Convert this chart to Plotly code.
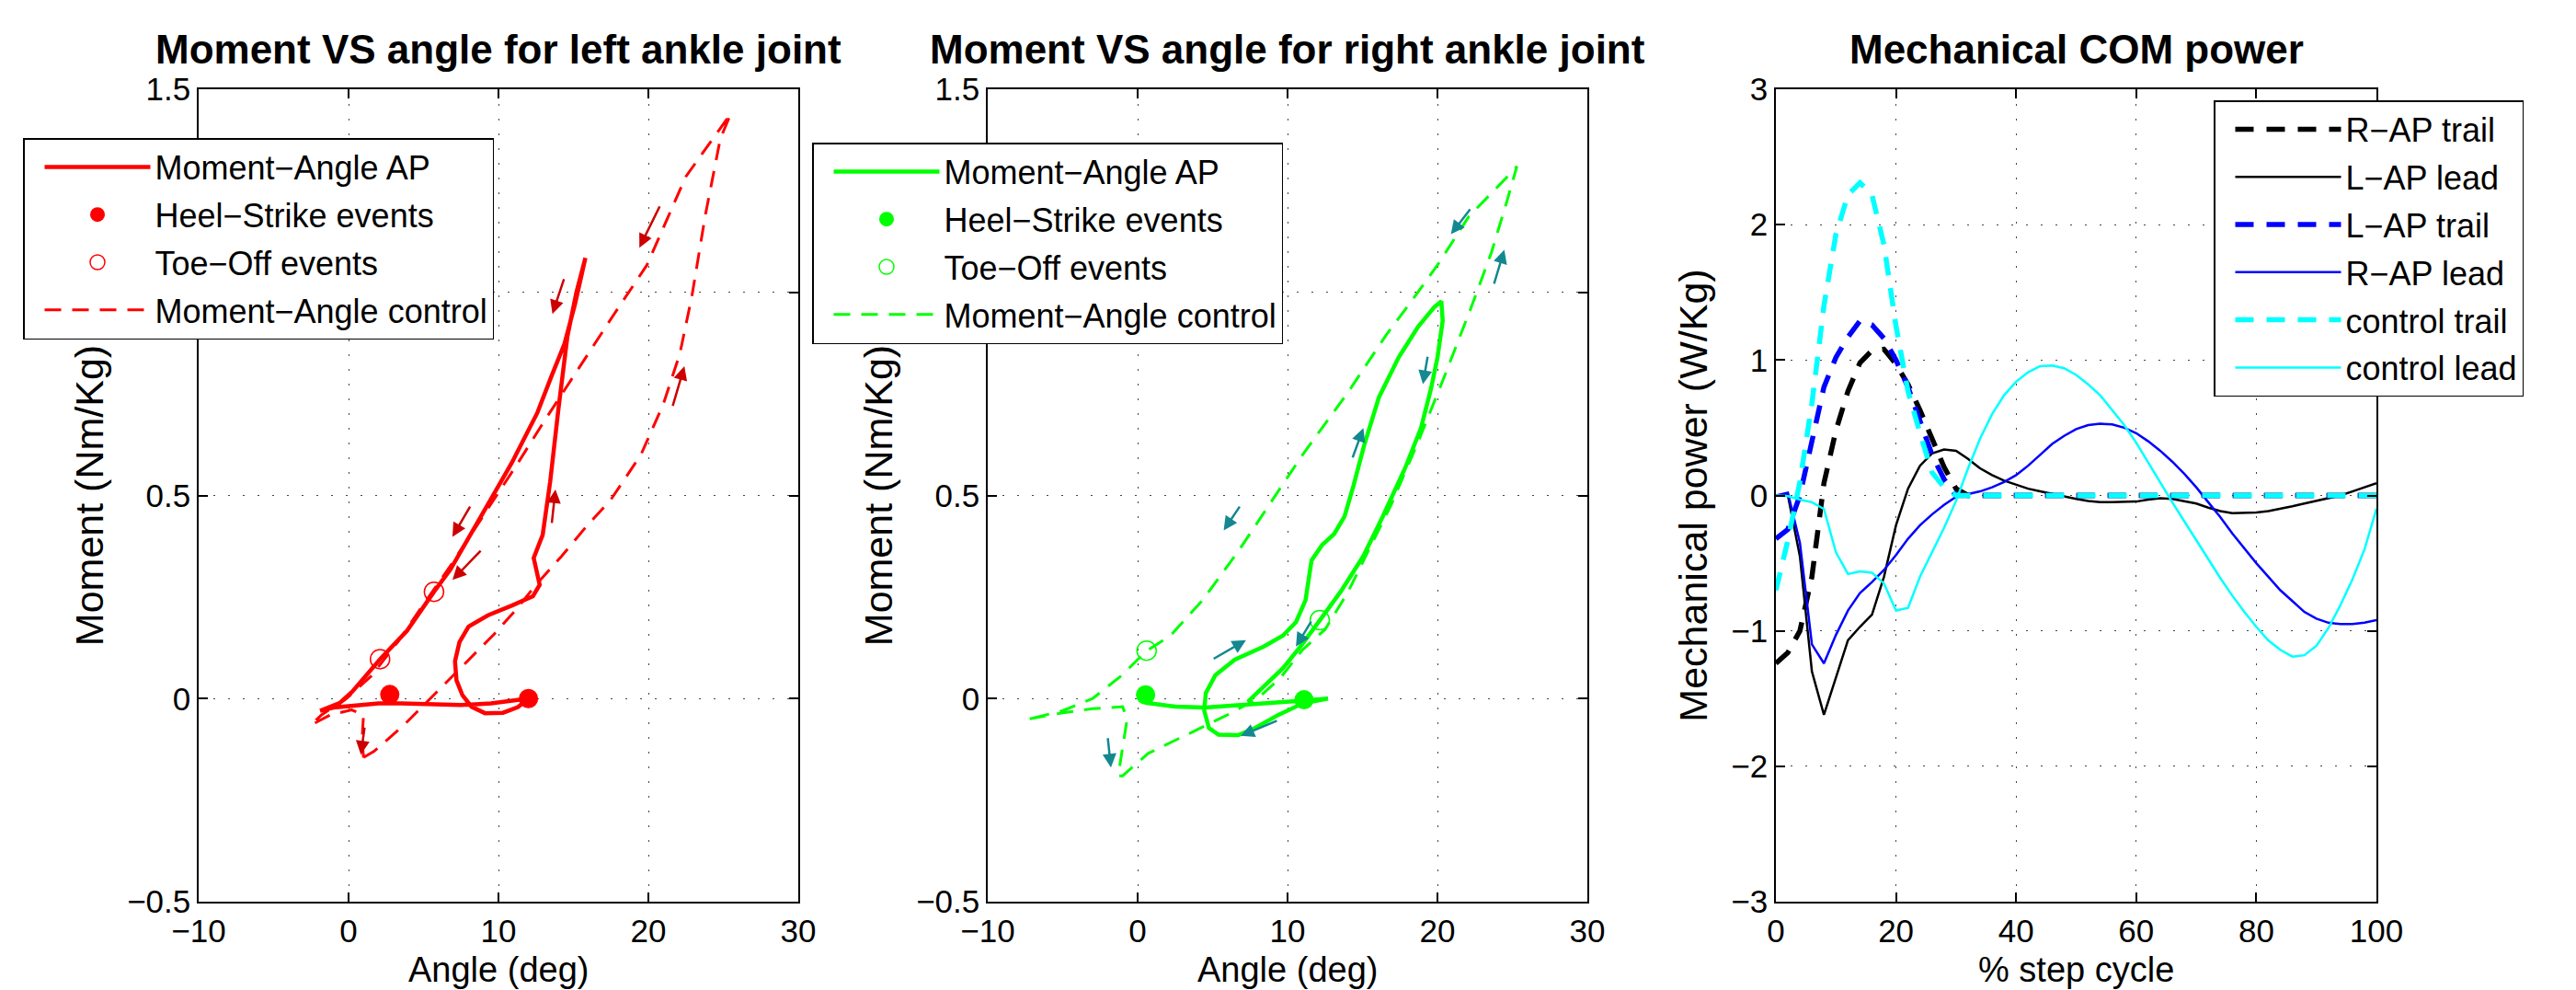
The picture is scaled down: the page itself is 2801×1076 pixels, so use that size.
import plotly.graph_objects as go

FONT = "Liberation Sans, Arial, Helvetica, sans-serif"

# ---------------- Left ankle joint ----------------
left_ap_angle = [-1.9, -1.0, 0.5, 2.0, 3.5, 5.5, 7.5, 9.5, 11.0, 12.0, 11.3, 10.3, 9.1, 8.2, 7.6, 7.2,
                 7.1, 7.4, 8.0, 9.3, 10.9, 12.3, 12.75, 12.35, 12.95, 13.45, 14.0, 14.6, 15.2, 15.8,
                 15.1, 14.4, 13.5, 12.6, 10.9, 8.85, 6.8, 5.7, 3.9, 2.1, 0.25, -0.6, -1.9]
left_ap_moment = [-0.03, -0.022, -0.017, -0.012, -0.012, -0.015, -0.016, -0.012, -0.006, 0.0, -0.021,
                  -0.035, -0.036, -0.02, 0.008, 0.045, 0.092, 0.139, 0.177, 0.205, 0.229, 0.252, 0.28,
                  0.346, 0.403, 0.534, 0.713, 0.892, 1.0, 1.085, 0.97, 0.873, 0.79, 0.704, 0.581, 0.45,
                  0.318, 0.263, 0.167, 0.097, 0.017, -0.011, -0.03]
left_hs_angle = [2.75, 12.0]
left_hs_moment = [0.01, 0.0]
left_to_angle = [2.1, 5.7]
left_to_moment = [0.097, 0.263]
left_ctrl_angle = [1.0, 1.7, 3.7, 6.0, 8.0, 9.7, 11.2, 12.5, 14.2, 15.8, 17.5, 19.5, 21.0, 22.1, 22.9,
                   23.8, 24.8, 25.5, 22.5, 19.9, 17.6, 15.4, 13.0, 11.3, 9.7, 8.4, 6.8, 5.0, 3.3, 1.5,
                   -0.2, -1.8, -2.5, -1.2, 0.2, 1.0, 0.9, 1.0]
left_ctrl_moment = [-0.145, -0.13, -0.065, 0.02, 0.095, 0.158, 0.22, 0.28, 0.35, 0.421, 0.49, 0.6,
                    0.725, 0.849, 0.99, 1.19, 1.378, 1.44, 1.285, 1.067, 0.94, 0.815, 0.68, 0.58, 0.49,
                    0.418, 0.327, 0.232, 0.14, 0.055, -0.002, -0.04, -0.065, -0.04, -0.028, -0.04,
                    -0.1, -0.145]
left_arrow_tail_x = [20.8, 14.4, 21.6, 13.55, 8.16, 8.9, 1.08]
left_arrow_tail_y = [1.215, 1.036, 0.717, 0.429, 0.476, 0.367, -0.068]
left_arrow_head_x = [19.4, 13.6, 22.4, 13.8, 6.93, 6.93, 0.82]
left_arrow_head_y = [1.11, 0.947, 0.818, 0.515, 0.398, 0.292, -0.138]

# ---------------- Right ankle joint ----------------
right_ap_angle = [0.5, 2.5, 4.5, 7.5, 9.5, 11.0, 12.7, 11.0, 9.4, 7.8, 6.7, 5.4, 4.76, 4.44, 4.55,
                  5.19, 6.48, 8.41, 9.7, 10.56, 11.2, 11.6, 12.3, 13.1, 13.8, 14.4, 15.1, 16.1, 17.4,
                  18.7, 19.8, 20.26, 20.35, 20.0, 19.57, 18.9, 17.85, 16.35, 15.06, 13.56, 12.1, 10.9,
                  9.7, 8.4, 7.34]
right_ap_moment = [-0.01, -0.02, -0.022, -0.015, -0.01, -0.005, 0.0, -0.012, -0.04, -0.073, -0.09,
                   -0.089, -0.073, -0.029, 0.014, 0.058, 0.096, 0.128, 0.155, 0.188, 0.242, 0.34, 0.378,
                   0.405, 0.448, 0.524, 0.622, 0.742, 0.839, 0.915, 0.964, 0.978, 0.93, 0.839, 0.763,
                   0.666, 0.568, 0.448, 0.351, 0.264, 0.19, 0.13, 0.075, 0.03, -0.008]
right_hs_angle = [0.53, 11.1]
right_hs_moment = [0.009, -0.003]
right_to_angle = [0.6, 12.15]
right_to_moment = [0.118, 0.193]
right_ctrl_angle = [-7.2, -5.0, -3.0, -1.0, -0.7, -1.0, -1.3, -1.0, 0.7, 3.5, 6.0, 8.0, 9.5, 11.0,
                    12.5, 14.0, 15.5, 16.9, 18.7, 20.4, 22.2, 23.6, 24.6, 25.3, 24.1, 22.1, 20.0, 18.3,
                    16.56, 14.0, 11.0, 8.63, 6.7, 4.33, 2.19, 0.58, -1.03, -3.0, -5.0, -7.2]
right_ctrl_moment = [-0.05, -0.035, -0.025, -0.02, -0.05, -0.12, -0.19, -0.19, -0.135, -0.085, -0.04,
                     0.0, 0.05, 0.12, 0.17, 0.26, 0.37, 0.476, 0.631, 0.787, 0.958, 1.098, 1.22, 1.31,
                     1.263, 1.187, 1.067, 0.98, 0.894, 0.752, 0.6, 0.47, 0.362, 0.242, 0.155, 0.117,
                     0.058, 0.0, -0.03, -0.05]
right_arrow_tail_x = [22.25, 23.75, 19.36, 14.31, 6.87, 4.98, 11.63, 9.38, -2.0]
right_arrow_tail_y = [1.208, 1.018, 0.845, 0.59, 0.476, 0.096, 0.193, -0.053, -0.094]
right_arrow_head_x = [20.9, 24.46, 19.03, 15.06, 5.74, 7.23, 10.56, 6.87, -1.78]
right_arrow_head_y = [1.143, 1.105, 0.774, 0.666, 0.414, 0.144, 0.128, -0.092, -0.17]

# ---------------- Mechanical COM power ----------------
step_pct = [0, 2, 4, 6, 8, 10, 12, 14, 16, 18, 20, 22, 24, 26, 28, 30, 32, 34, 36, 38, 40, 42, 44,
            46, 48, 50, 52, 54, 56, 58, 60, 62, 64, 66, 68, 70, 72, 74, 76, 78, 80, 82, 84, 86, 88,
            90, 92, 94, 96, 98, 100]
r_ap_trail = [-1.24, -1.16, -1.0, -0.6, 0.09, 0.48, 0.77, 0.98, 1.07, 1.08, 0.97, 0.82, 0.63, 0.42,
              0.21, 0.05, 0, 0, 0, 0, 0, 0, 0, 0, 0, 0, 0, 0, 0, 0, 0, 0, 0, 0, 0, 0, 0, 0, 0, 0, 0,
              0, 0, 0, 0, 0, 0, 0, 0, 0, 0]
l_ap_lead = [0.0, 0.0, -0.45, -1.3, -1.62, -1.35, -1.07, -0.97, -0.88, -0.6, -0.22, 0.05, 0.22, 0.31,
             0.34, 0.33, 0.27, 0.2, 0.15, 0.11, 0.08, 0.05, 0.03, 0.01, -0.01, -0.025, -0.04, -0.05,
             -0.05, -0.05, -0.045, -0.03, -0.02, -0.025, -0.04, -0.06, -0.09, -0.115, -0.13, -0.13,
             -0.125, -0.115, -0.1, -0.08, -0.06, -0.04, -0.02, 0.0, 0.03, 0.06, 0.09]
l_ap_trail = [-0.32, -0.25, 0.0, 0.42, 0.8, 1.02, 1.17, 1.29, 1.26, 1.16, 1.0, 0.8, 0.55, 0.3, 0.12,
              0.0, 0, 0, 0, 0, 0, 0, 0, 0, 0, 0, 0, 0, 0, 0, 0, 0, 0, 0, 0, 0, 0, 0, 0, 0, 0, 0, 0,
              0, 0, 0, 0, 0, 0, 0, 0]
r_ap_lead = [0.0, 0.02, -0.35, -1.1, -1.24, -1.03, -0.85, -0.72, -0.64, -0.55, -0.44, -0.32, -0.22,
             -0.14, -0.07, -0.01, 0.01, 0.03, 0.06, 0.1, 0.15, 0.22, 0.3, 0.38, 0.44, 0.49, 0.52, 0.53,
             0.525, 0.5, 0.46, 0.4, 0.33, 0.25, 0.16, 0.06, -0.05, -0.16, -0.28, -0.39, -0.5, -0.6,
             -0.7, -0.78, -0.86, -0.91, -0.94, -0.95, -0.95, -0.94, -0.92]
control_trail = [-0.7, -0.33, 0.1, 0.68, 1.4, 1.93, 2.22, 2.31, 2.22, 1.85, 1.25, 0.77, 0.46, 0.17,
                 0.06, 0.0, 0, 0, 0, 0, 0, 0, 0, 0, 0, 0, 0, 0, 0, 0, 0, 0, 0, 0, 0, 0, 0, 0, 0, 0, 0,
                 0, 0, 0, 0, 0, 0, 0, 0, 0, 0]
control_lead = [0.0, -0.005, -0.03, -0.05, -0.1, -0.42, -0.58, -0.56, -0.57, -0.65, -0.85, -0.83, -0.6,
                -0.42, -0.24, -0.04, 0.2, 0.42, 0.6, 0.74, 0.84, 0.91, 0.955, 0.96, 0.94, 0.89, 0.82,
                0.74, 0.63, 0.52, 0.39, 0.24, 0.09, -0.05, -0.19, -0.33, -0.47, -0.61, -0.74, -0.86,
                -0.97, -1.07, -1.14, -1.19, -1.18, -1.11, -0.98, -0.81, -0.62, -0.4, -0.1]

# tick labels
angle_ticks = [-10, 0, 10, 20, 30]
moment_ticks = [-0.5, 0, 0.5, 1, 1.5]
moment_ticktext = ["\u22120.5", "0", "0.5", "", "1.5"]   # "1" is hidden behind the legend
pct_ticks = [0, 20, 40, 60, 80, 100]
power_ticks = [-3, -2, -1, 0, 1, 2, 3]

W, H = 2801, 1076
fig = go.Figure()


def add_ankle(xa, ya, leg, color, apx, apy, hsx, hsy, tox, toy, cx, cy):
    fig.add_trace(go.Scatter(x=apx, y=apy, mode="lines", name="Moment\u2212Angle AP",
                             line=dict(color=color, width=4.5), xaxis=xa, yaxis=ya,
                             legend=leg, legendgroup=leg + "1"))
    fig.add_trace(go.Scatter(x=hsx, y=hsy, mode="markers", name="Heel\u2212Strike events",
                             marker=dict(color=color, size=21, symbol="circle"), xaxis=xa, yaxis=ya,
                             legend=leg, legendgroup=leg + "2"))
    fig.add_trace(go.Scatter(x=tox, y=toy, mode="markers", name="Toe\u2212Off events",
                             marker=dict(color=color, size=21, symbol="circle-open", line=dict(width=1.5)),
                             xaxis=xa, yaxis=ya, legend=leg, legendgroup=leg + "3"))
    fig.add_trace(go.Scatter(x=cx, y=cy, mode="lines", name="Moment\u2212Angle control",
                             line=dict(color=color, width=3, dash="18px,12px"), xaxis=xa, yaxis=ya,
                             legend=leg, legendgroup=leg + "4"))


add_ankle("x", "y", "legend", "#FF0000", left_ap_angle, left_ap_moment, left_hs_angle, left_hs_moment,
          left_to_angle, left_to_moment, left_ctrl_angle, left_ctrl_moment)
add_ankle("x2", "y2", "legend2", "#00FF00", right_ap_angle, right_ap_moment, right_hs_angle,
          right_hs_moment, right_to_angle, right_to_moment, right_ctrl_angle, right_ctrl_moment)

power_series = [
    ("R\u2212AP trail", r_ap_trail, "#000000", 5.5, "20px,14px"),
    ("L\u2212AP lead", l_ap_lead, "#000000", 2.5, "solid"),
    ("L\u2212AP trail", l_ap_trail, "#0000FF", 5.5, "20px,14px"),
    ("R\u2212AP lead", r_ap_lead, "#0000FF", 2.5, "solid"),
    ("control trail", control_trail, "#00FFFF", 5.5, "20px,14px"),
    ("control lead", control_lead, "#00FFFF", 2.5, "solid"),
]
for i, (nm, vals, col, lw, dash) in enumerate(power_series):
    fig.add_trace(go.Scatter(x=step_pct, y=vals, mode="lines", name=nm,
                             line=dict(color=col, width=lw, dash=dash), xaxis="x3", yaxis="y3",
                             legend="legend3", legendgroup="p%d" % i))

annotations = []
for xr, yr, col, tx, ty, hx, hy in [
    ("x", "y", "#CC0000", left_arrow_tail_x, left_arrow_tail_y, left_arrow_head_x, left_arrow_head_y),
    ("x2", "y2", "#138891", right_arrow_tail_x, right_arrow_tail_y, right_arrow_head_x, right_arrow_head_y),
]:
    for a, b, c, d in zip(tx, ty, hx, hy):
        annotations.append(dict(x=c, y=d, ax=a, ay=b, xref=xr, yref=yr, axref=xr, ayref=yr,
                                text="", showarrow=True, arrowhead=2, arrowsize=1.2,
                                arrowwidth=2.5, arrowcolor=col))

x_doms = [(216 / W, 868 / W), (1074 / W, 1726 / W), (1931 / W, 2584 / W)]
y_dom = ((1076 - 980) / H, (1076 - 97) / H)
titles = ["Moment VS angle for left ankle joint", "Moment VS angle for right ankle joint",
          "Mechanical COM power"]
xlabels = ["Angle (deg)", "Angle (deg)", "% step cycle"]
for (d0, d1), t, xl in zip(x_doms, titles, xlabels):
    annotations.append(dict(text=t, x=(d0 + d1) / 2, y=1 - 53 / H, xref="paper", yref="paper",
                            xanchor="center", yanchor="middle", showarrow=False,
                            font=dict(family=FONT, size=44, color="black", weight="bold")))
    # x-axis label, kept inside the figure just below the tick labels
    annotations.append(dict(text=xl, x=(d0 + d1) / 2, y=0.0, xref="paper", yref="paper",
                            xanchor="center", yanchor="bottom", showarrow=False, borderpad=0,
                            font=dict(family=FONT, size=38, color="black")))

axis_common = dict(showline=True, linecolor="black", linewidth=1.5, mirror="ticks", ticks="inside",
                   ticklen=10, tickwidth=1.5, tickcolor="black", showgrid=True, gridcolor="#444444",
                   gridwidth=1.3, griddash="2px,14px", zeroline=False, automargin=False,
                   tickfont=dict(family=FONT, size=35, color="black"))
title_font = dict(family=FONT, size=43, color="black")

layout = dict(
    width=W, height=H, autosize=False, template="none", paper_bgcolor="white", plot_bgcolor="white",
    margin=dict(l=0, r=0, t=0, b=0), annotations=annotations, showlegend=True,
    font=dict(family=FONT, color="black"),
)
ylabels = ["Moment (Nm/Kg)", "Moment (Nm/Kg)", "Mechanical power (W/Kg)"]
for i in range(3):
    sfx = "" if i == 0 else str(i + 1)
    if i < 2:
        xr, xt, yr, yt, ytt = [-10, 30], angle_ticks, [-0.5, 1.5], moment_ticks, moment_ticktext
    else:
        xr, xt, yr, yt, ytt = [0, 100], pct_ticks, [-3, 3], power_ticks, None
    layout["xaxis" + sfx] = dict(axis_common, domain=list(x_doms[i]), range=xr, tickvals=xt,
                                 anchor="y" + sfx, ticklabelstandoff=0)
    ydict = dict(axis_common, domain=list(y_dom), range=yr, tickvals=yt, anchor="x" + sfx,
                 ticklabelstandoff=0, title=dict(text=ylabels[i], font=title_font, standoff=12))
    if ytt is not None:
        ydict["ticktext"] = ytt
    layout["yaxis" + sfx] = ydict

leg_common = dict(xanchor="left", yanchor="top", bgcolor="white", bordercolor="black", borderwidth=1.5,
                  font=dict(family=FONT, size=36, color="black"), itemwidth=115, indentation=17,
                  traceorder="grouped", tracegroupgap=2)
layout["legend"] = dict(leg_common, x=25 / W, y=1 - 150 / H)
layout["legend2"] = dict(leg_common, x=883 / W, y=1 - 155 / H)
layout["legend3"] = dict(leg_common, x=2407 / W, y=1 - 109 / H)

fig.update_layout(**layout)
fig.write_html("out.html")
